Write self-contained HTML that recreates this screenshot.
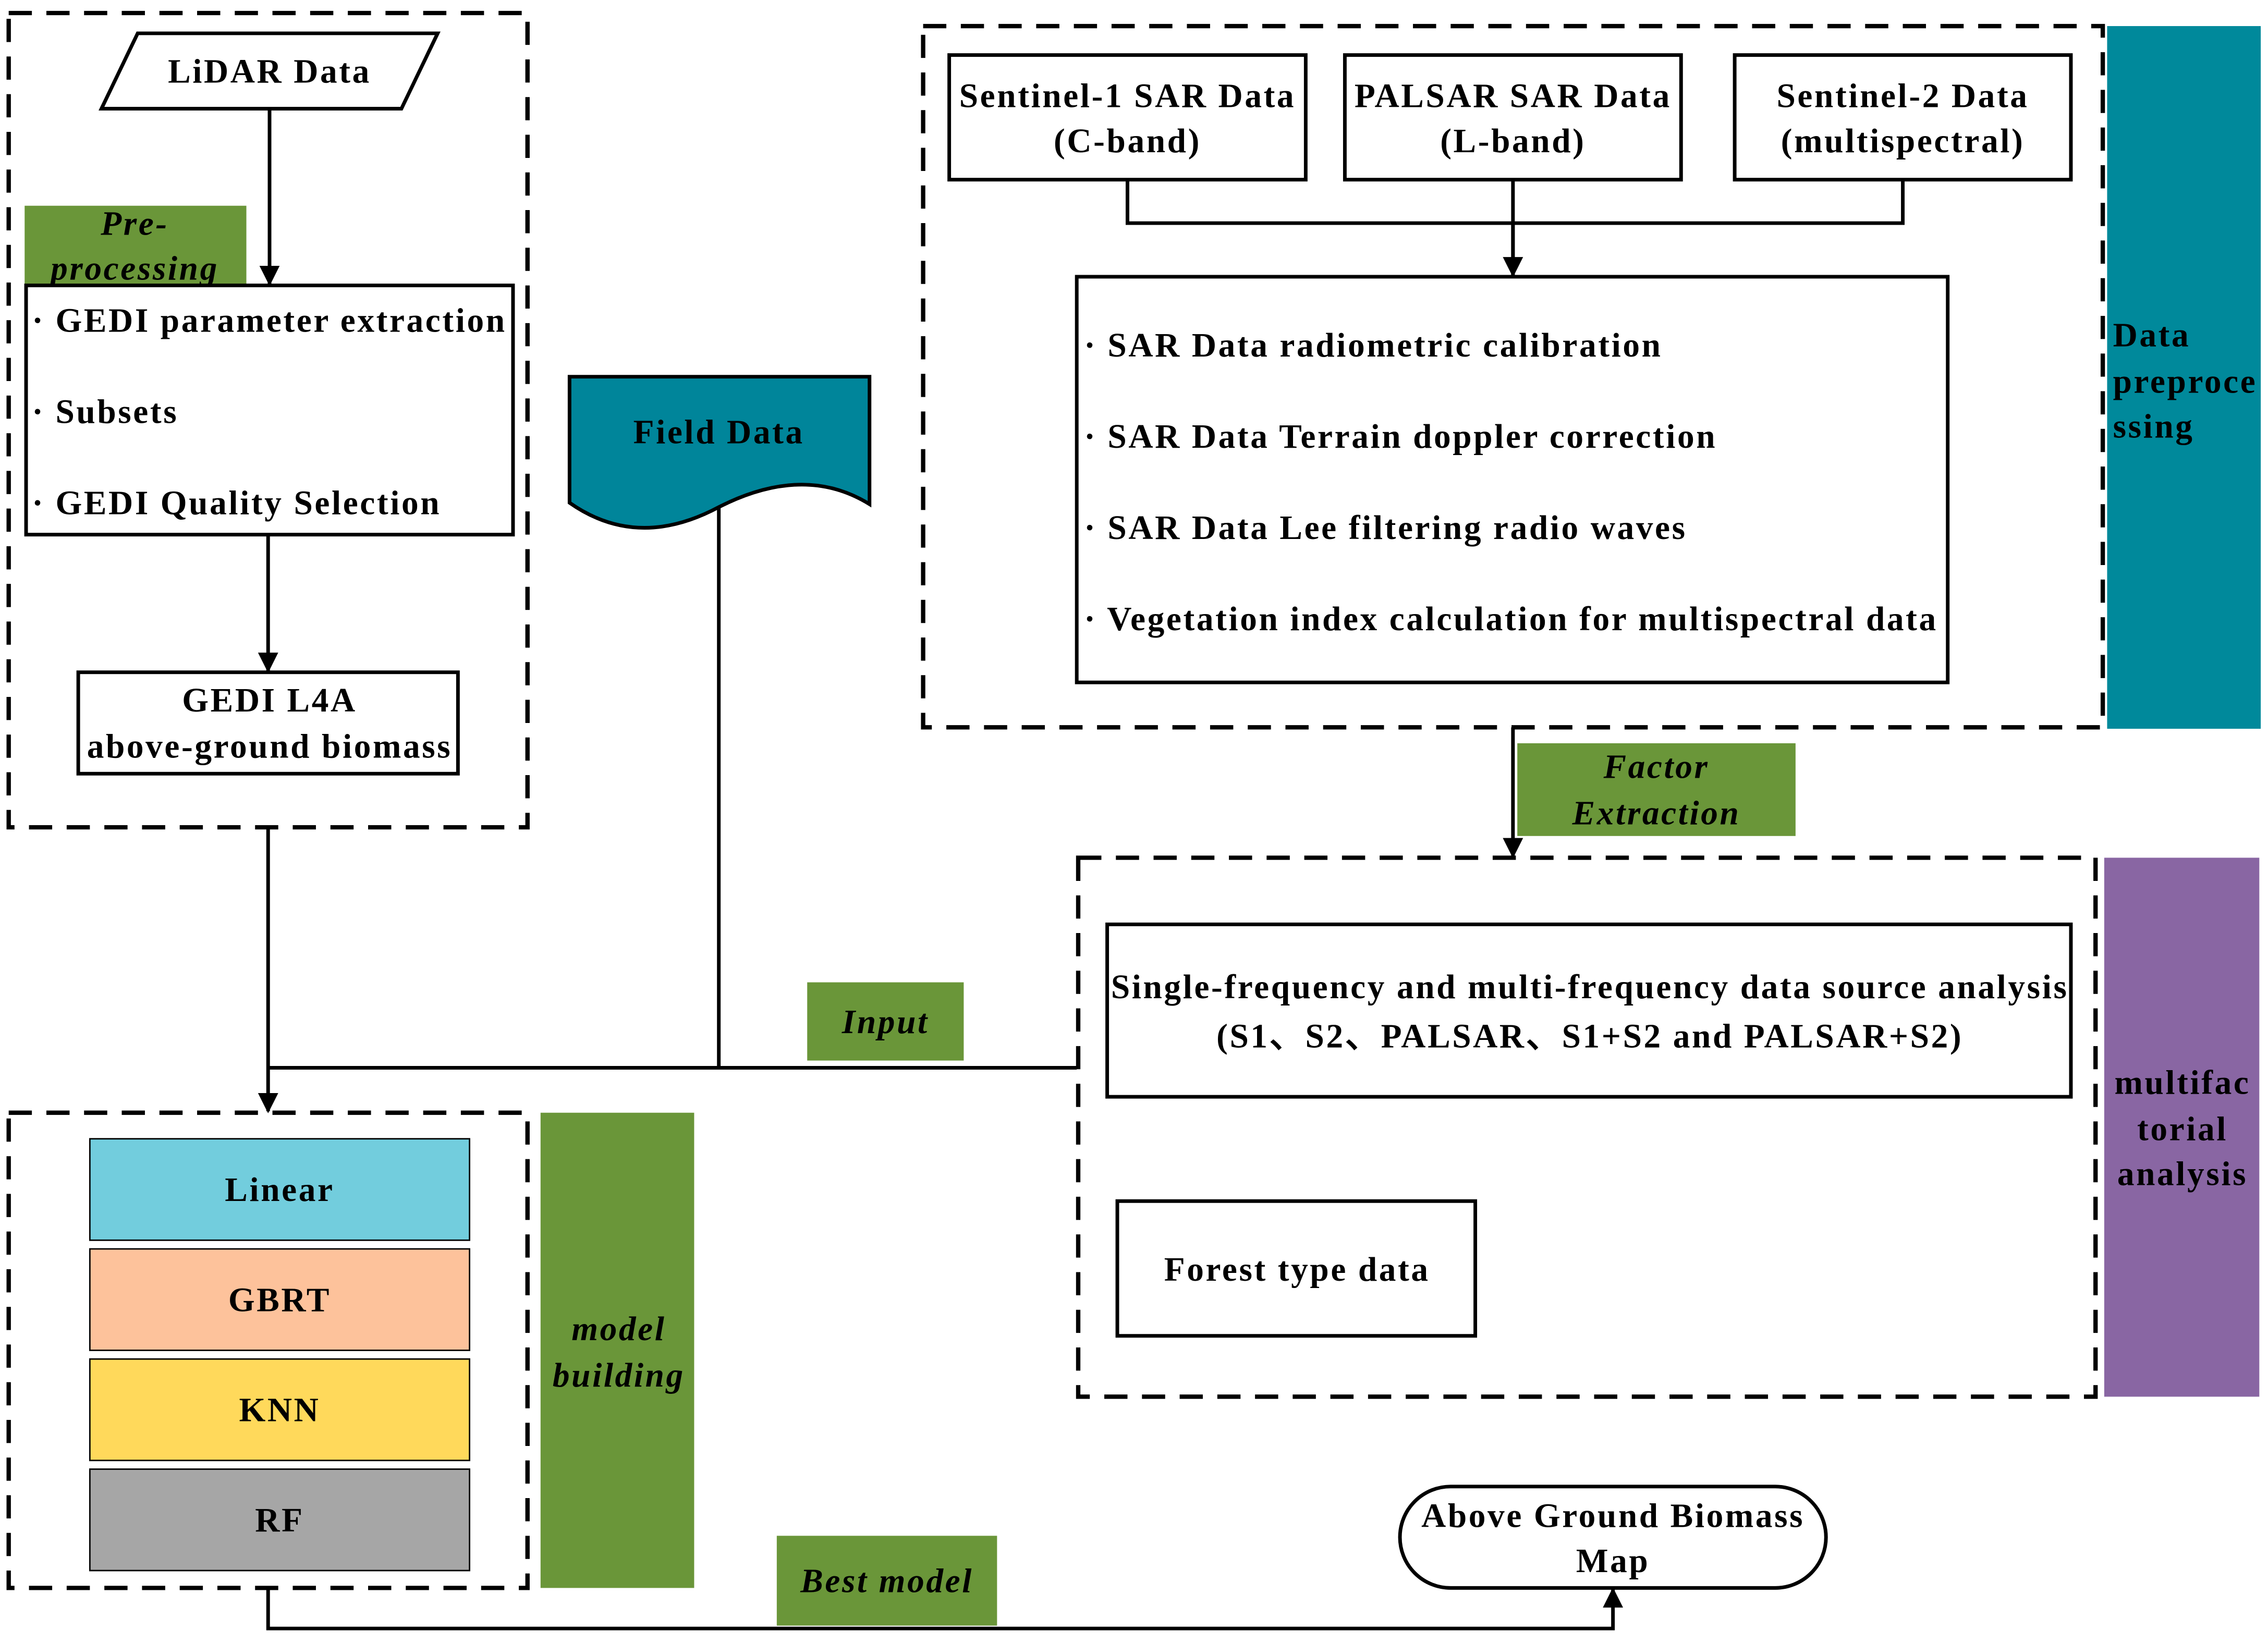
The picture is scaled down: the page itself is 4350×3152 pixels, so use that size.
<!DOCTYPE html>
<html><head><meta charset="utf-8"><style>html,body{margin:0;padding:0;background:#fff}svg{display:block}</style></head>
<body>
<svg xmlns="http://www.w3.org/2000/svg" width="4350" height="3152" viewBox="0 0 1565 1134" font-family="'Liberation Serif', serif" font-weight="bold" font-size="23.5" letter-spacing="1.3">
<defs>
<marker id="b" viewBox="0 0 10 10" markerWidth="14" markerHeight="14" refX="9" refY="5" orient="auto" markerUnits="userSpaceOnUse"><path d="M0,0 L10,5 L0,10 Z" fill="#000"/></marker></defs>
<rect width="1565" height="1134" fill="#fff"/>
<g fill="none" stroke="#000" stroke-width="3" stroke-dasharray="16,10">
<rect x="6" y="9" width="358" height="562"/>
<rect x="637" y="18" width="814" height="484"/>
<rect x="744" y="592" width="702" height="372"/>
<rect x="6" y="768" width="358" height="328"/>
</g>
<rect x="1454" y="18" width="106" height="485" fill="#00899b"/>
<rect x="1452" y="592" width="107" height="372" fill="#8966a3"/>
<g fill="#6a9639">
<rect x="17" y="142" width="153" height="55"/>
<rect x="557" y="678" width="108" height="54"/>
<rect x="1047" y="513" width="192" height="64"/>
<rect x="373" y="768" width="106" height="328"/>
<rect x="536" y="1060" width="152" height="62"/>
</g>
<g stroke="#000" stroke-width="2.5" fill="#fff">
<polygon points="70,75 95,23 302,23 277,75"/>
<rect x="18" y="197" width="336" height="172"/>
<rect x="54" y="464" width="262" height="70"/>
<rect x="655" y="38" width="246" height="86"/>
<rect x="928" y="38" width="232" height="86"/>
<rect x="1197" y="38" width="232" height="86"/>
<rect x="743" y="191" width="601" height="280"/>
<rect x="764" y="638" width="665" height="119"/>
<rect x="771" y="829" width="247" height="93"/>
<rect x="966" y="1026" width="294" height="70" rx="35"/>
<rect x="62" y="786" width="262" height="70" fill="#72cddd" stroke-width="1"/>
<rect x="62" y="862" width="262" height="70" fill="#fdc29b" stroke-width="1"/>
<rect x="62" y="938" width="262" height="70" fill="#ffd95b" stroke-width="1"/>
<rect x="62" y="1014" width="262" height="70" fill="#a6a6a6" stroke-width="1"/>
<path d="M393,260 H600 V348 Q555,320 496,350 Q440,380 393,347 Z" fill="#00859a"/>
</g>
<g stroke="#000" stroke-width="2.5" fill="none">
<path d="M186,75 V196" marker-end="url(#b)"/>
<path d="M185,369 V463" marker-end="url(#b)"/>
<path d="M185,571 V767" marker-end="url(#b)"/>
<path d="M185,737 H743"/>
<path d="M496,350 V737"/>
<path d="M778,124 V154 H1313 V124 M1044,124 V190" />
<path d="M1044,154 V190" marker-end="url(#b)"/>
<path d="M1044,502 V591" marker-end="url(#b)"/>
<path d="M185,1096 V1124 H1113 V1097" marker-end="url(#b)"/>
</g>
<g text-anchor="middle">
<text x="186" y="57">LiDAR Data</text>
<text x="186" y="491">GEDI L4A</text>
<text x="186" y="523">above-ground biomass</text>
<text x="496" y="306">Field Data</text>
<text x="778" y="74">Sentinel-1 SAR Data</text>
<text x="778" y="105">(C-band)</text>
<text x="1044" y="74">PALSAR SAR Data</text>
<text x="1044" y="105">(L-band)</text>
<text x="1313" y="74">Sentinel-2 Data</text>
<text x="1313" y="105">(multispectral)</text>
<text x="1097" y="689">Single-frequency and multi-frequency data source analysis</text>
<text x="1097" y="723">(S1、S2、PALSAR、S1+S2 and PALSAR+S2)</text>
<text x="895" y="884">Forest type data</text>
<text x="1113" y="1054">Above Ground Biomass</text>
<text x="1113" y="1085">Map</text>
<text x="193" y="829">Linear</text>
<text x="193" y="905">GBRT</text>
<text x="193" y="981">KNN</text>
<text x="193" y="1057">RF</text>
<text x="1506" y="755">multifac</text>
<text x="1506" y="787">torial</text>
<text x="1506" y="818">analysis</text>
</g>
<g>
<text x="22" y="229">· GEDI parameter extraction</text>
<text x="22" y="292">· Subsets</text>
<text x="22" y="355">· GEDI Quality Selection</text>
<text x="748" y="246">· SAR Data radiometric calibration</text>
<text x="748" y="309">· SAR Data Terrain doppler correction</text>
<text x="748" y="372">· SAR Data Lee filtering radio waves</text>
<text x="748" y="435">· Vegetation index calculation for multispectral data</text>
<text x="1458" y="239">Data</text>
<text x="1458" y="271">preproce</text>
<text x="1458" y="302">ssing</text>
</g>
<g text-anchor="middle" font-style="italic">
<text x="93" y="162">Pre-</text>
<text x="93" y="193">processing</text>
<text x="611" y="713">Input</text>
<text x="1143" y="537">Factor</text>
<text x="1143" y="569">Extraction</text>
<text x="427" y="925">model</text>
<text x="427" y="957">building</text>
<text x="612" y="1099">Best model</text>
</g>
</svg>
</body></html>
